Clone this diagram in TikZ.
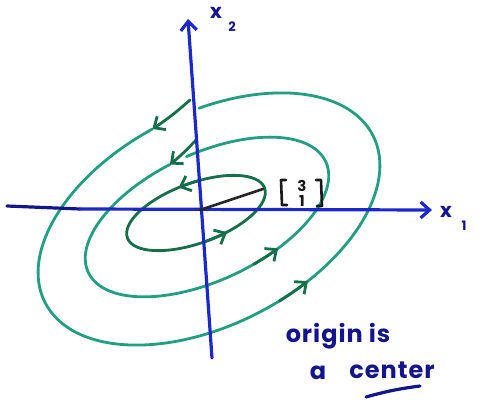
\documentclass[tikz,border=0pt]{standalone}
\usepackage{fontspec}
\setmainfont{Poppins}
\usetikzlibrary{arrows.meta}
\definecolor{tealc}{RGB}{35,158,128}
\definecolor{dkg}{RGB}{22,110,75}
\definecolor{axb}{RGB}{28,40,200}
\definecolor{navy}{RGB}{20,20,140}
\begin{document}
\begin{tikzpicture}[x=1pt,y=-1pt,
  curve/.style={line width=2.8pt,line cap=round},
  axisline/.style={line width=3.2pt,line cap=round,axb},
  tipv/.style={-{Straight Barb[length=9pt,width=16pt]}},
  brk/.style={line width=2.6pt,line cap=round,line join=round,black!90},
  lab/.style={text=navy,font=\fontsize{20}{20}\selectfont\bfseries,inner sep=0pt},
  sublab/.style={text=navy,font=\fontsize{13}{13}\selectfont\bfseries,inner sep=0pt},
  digit/.style={text=black!90,font=\fontsize{15}{15}\selectfont\bfseries,inner sep=0pt},
  note/.style={text=navy,font=\fontsize{24}{24}\selectfont\bfseries\addfontfeature{LetterSpace=4},inner sep=0pt,anchor=base}]
\useasboundingbox (0,0) rectangle (499,409);

% outer trajectory
\begin{scope}[shift={(209,219)},rotate=27]
  \coordinate (oA) at (93:184pt and 106pt);
  \draw[curve,tealc] (93:184pt and 106pt) arc[start angle=93,end angle=437,x radius=184pt,y radius=106pt];
  \draw[curve,dkg,tipv] (278:184pt and 106pt) arc[start angle=278,end angle=289,x radius=184pt,y radius=106pt];
\end{scope}
\coordinate (oS) at (190,100);
\draw[curve,dkg,tipv] (oS) to[bend left=4] (oA);

% middle trajectory
\begin{scope}[shift={(207,217)},rotate=25]
  \coordinate (mA) at (95:131pt and 63.5pt);
  \draw[curve,tealc] (95:131pt and 63.5pt) arc[start angle=95,end angle=447,x radius=131pt,y radius=63.5pt];
  \draw[curve,dkg,tipv] (280:131pt and 63.5pt) arc[start angle=280,end angle=293,x radius=131pt,y radius=63.5pt];
\end{scope}
\coordinate (mS) at (196,140);
\draw[curve,dkg,tipv] (mS) to[bend left=4] (mA);

% inner trajectory
\begin{scope}[shift={(196,213)},rotate=20]
  \draw[curve,dkg] (0,0) ellipse[x radius=73pt,y radius=30pt];
  \draw[curve,dkg,tipv] (78:73pt and 30pt) arc[start angle=78,end angle=96,x radius=73pt,y radius=30pt];
  \draw[curve,dkg,tipv] (270:73pt and 30pt) arc[start angle=270,end angle=288,x radius=73pt,y radius=30pt];
\end{scope}

% axes
\coordinate (ytop) at (188,19);
\coordinate (ybot) at (212,358);
\coordinate (xl) at (7,206);
\coordinate (xm) at (80,209);
\coordinate (xr) at (432,210);
\draw[axisline,tipv] (ybot) -- (ytop);
\draw[axisline,navy] (xl) -- (xm);
\draw[axisline,tipv] (xm) -- (xr);

% eigenvector
\coordinate (o) at (200,210);
\coordinate (v) at (263,189);
\draw[line width=2.6pt,line cap=round,black!85] (o) -- (v);
\coordinate (bl1) at (286,180); \coordinate (bl2) at (281,180);
\coordinate (bl3) at (282,205); \coordinate (bl4) at (287,205);
\coordinate (br1) at (316,180); \coordinate (br2) at (321,180);
\coordinate (br3) at (322,206); \coordinate (br4) at (317,206);
\draw[brk] (bl1) -- (bl2) -- (bl3) -- (bl4);
\draw[brk] (br1) -- (br2) -- (br3) -- (br4);
\node[digit] (d3) at (302,186) {3};
\node[digit] (d1) at (302,201) {1};

% axis labels
\node[lab] (x2) at (216,13) {x};
\node[sublab] (x2s) at (232,27) {2};
\node[lab] (x1) at (446,212) {x};
\node[sublab] (x1s) at (464,226) {1};

% note
\node[note] (n1) at (338,343) {origin is};
\node[note] (n2a) at (318,380) {a};
\node[note] (n2b) at (392,379) {center};
\coordinate (u1) at (366,397);
\coordinate (u2) at (420,386);
\draw[line width=3.2pt,line cap=round,navy] (u1) to[bend left=4] (u2);
\end{tikzpicture}
\end{document}
